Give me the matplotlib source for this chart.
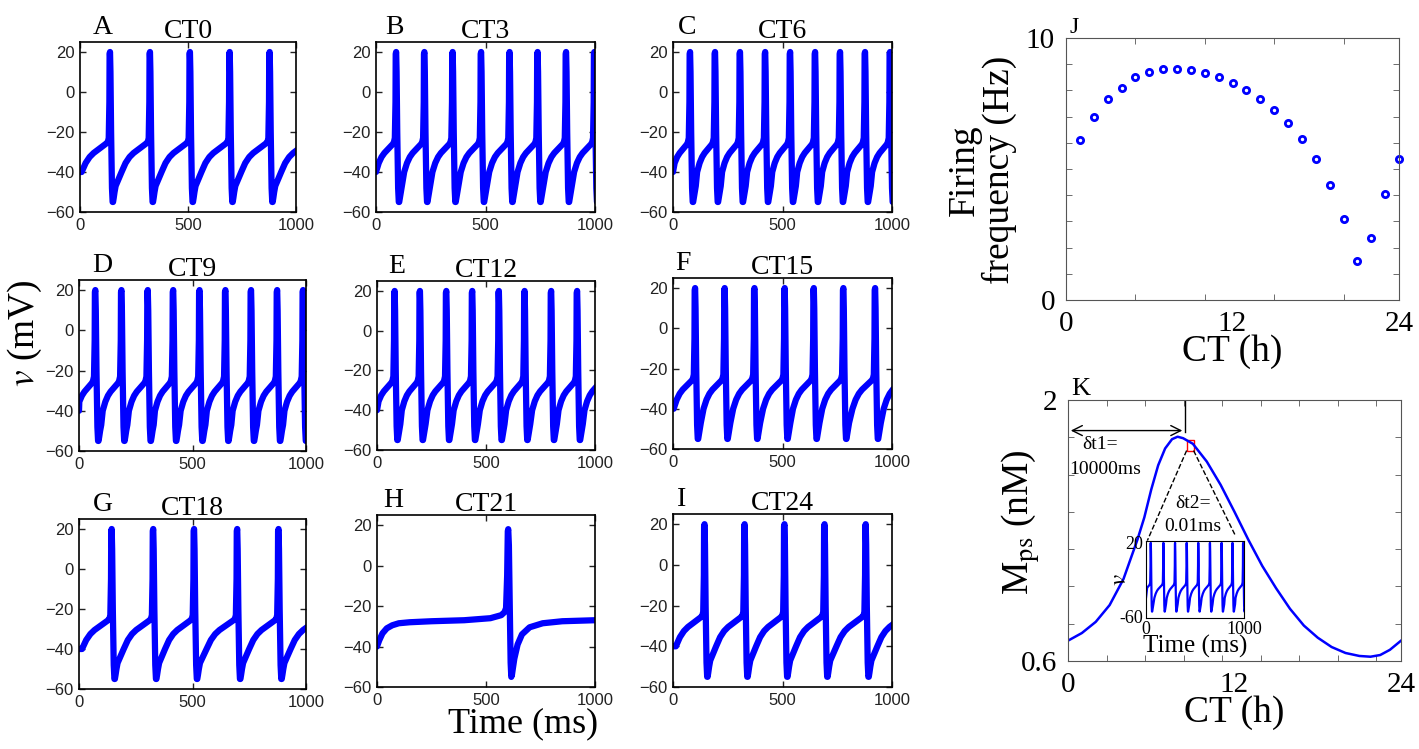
import numpy as np
import matplotlib
matplotlib.use("Agg")
import matplotlib.pyplot as plt
from matplotlib.patches import Rectangle

plt.rcParams["font.family"] = ["Liberation Serif", "DejaVu Serif"]
plt.rcParams["mathtext.fontset"] = "stix"

W, H = 1419, 749
BLUE = "#0000ff"

# panels A-I: label, title, spike peak times (ms)
panel_letters = ["A", "B", "C", "D", "E", "F", "G", "I"]
panel_titles = ["CT0", "CT3", "CT6", "CT9", "CT12", "CT15", "CT18", "CT24"]
spike_times = [
    [137, 322, 507, 691, 876],
    [90, 219, 348, 478, 608, 736, 866, 995],
    [76, 190, 304, 419, 533, 647, 761, 875, 989],
    [70, 185, 301, 413, 529, 643, 756, 871, 985],
    [79, 195, 316, 435, 557, 675, 797, 916],
    [99, 234, 370, 508, 641, 776, 921],
    [142, 325, 505, 695, 877],
    [142, 325, 507, 690, 878],
]

# shape of one action potential (ms from peak, mV)
spike_t = [-8, -4, -1, 0, 2, 4, 7, 11, 14, 16, 19, 23, 28]
spike_v = [-25, -23, -5, 19, 20, 10, -20, -48, -55, -55, -53, -50, -47]
# slow recovery between spikes (fraction of interval, mV)
recov_phase = [0.3, 0.4, 0.5, 0.6, 0.7, 0.8, 0.9]
recov_v = [-40, -35.5, -32.5, -30.5, -29, -27.5, -26]

# CT21 panel: a single spike
h_time = [0, 10, 25, 45, 70, 100, 150, 250, 400, 520, 570, 585, 592, 597, 600, 602, 605, 609,
          613, 616, 619, 623, 630, 645, 665, 700, 760, 850, 1000]
h_volt = [-40, -37, -33.5, -31, -29.5, -28.5, -28, -27.5, -27, -26, -24.5, -23, -21, -5, 17, 18,
          10, -20, -48, -55, -54, -51, -46, -39, -34, -30.5, -28.5, -27.5, -27]

# J: firing frequency
ct_hours = list(range(1, 25))
freq_hz = [6.09, 6.99, 7.69, 8.10, 8.50, 8.70, 8.80, 8.82, 8.78, 8.66, 8.50, 8.29,
           8.01, 7.68, 7.26, 6.76, 6.14, 5.39, 4.39, 3.11, 1.50, 2.37, 4.06, 5.39]

# K: Mps over the day
mps_ct = [0, 1, 2, 3, 4, 5, 5.5, 6, 6.5, 7, 7.5, 7.9, 8.3, 9, 10, 11, 12, 13, 14, 15,
          16, 17, 18, 19, 20, 21, 21.8, 22.5, 23.2, 24]
mps_nm = [0.709, 0.75, 0.81, 0.90, 1.04, 1.25, 1.37, 1.52, 1.65, 1.74, 1.79, 1.803,
          1.795, 1.765, 1.67, 1.545, 1.40, 1.25, 1.11, 0.99, 0.88, 0.79, 0.725, 0.675,
          0.643, 0.627, 0.623, 0.632, 0.66, 0.709]
inset_spikes = [47, 176, 295, 414, 532, 651, 770, 881, 990]


def build_trace(spikes):
    isi = np.mean(np.diff(spikes))
    t, v = [0.0], [-40.0]
    for f, val in zip(recov_phase, recov_v):
        tt = spikes[0] - isi * (1 - f)
        if tt > 0:
            t.append(tt)
            v.append(val)
    for k, s in enumerate(spikes):
        t += [s + d for d in spike_t]
        v += spike_v
        nxt = spikes[k + 1] if k + 1 < len(spikes) else s + isi
        gap = nxt - s
        t += [s + f * gap for f in recov_phase]
        v += recov_v
    return np.array(t), np.array(v)


def px_axes(l, t, r, b):
    return fig.add_axes([l / W, 1 - b / H, (r - l) / W, (b - t) / H])


def style_voltage(ax, letter, title, dx):
    ax.set_xlim(0, 1000)
    ax.set_ylim(-60, 25)
    ax.set_xticks([0, 500, 1000])
    ax.set_yticks([-60, -40, -20, 0, 20])
    ax.set_yticklabels(["\u221260", "\u221240", "\u221220", "0", "20"])
    ax.tick_params(direction="in", length=4, width=1, top=True, right=True,
                   labelsize=12, pad=4, colors="#222222")
    for lab in ax.get_xticklabels() + ax.get_yticklabels():
        lab.set_fontfamily("Liberation Sans")
    for sp in ax.spines.values():
        sp.set_linewidth(1.2)
    ax.set_title(title, fontsize=20, pad=3)
    ax.text(dx, 1.01, letter, transform=ax.transAxes, fontsize=20, va="bottom", ha="left")


fig = plt.figure(figsize=(W / 100, H / 100), dpi=100)

boxes = [
    (80, 42, 296, 212), (376, 42, 595, 212), (673, 42, 892, 212),
    (79, 280, 306, 451), (377, 281, 595, 450), (673, 278, 892, 449),
    (79, 519, 306, 689), (673, 514, 892, 687),
]
letter_dx = [0.06, 0.04, 0.02, 0.06, 0.05, 0.01, 0.06, 0.02]
for box, letter, title, spikes, dx in zip(boxes, panel_letters, panel_titles, spike_times, letter_dx):
    ax = px_axes(*box)
    t, v = build_trace(spikes)
    ax.plot(t, v, color=BLUE, lw=4.5, solid_joinstyle="round", solid_capstyle="round")
    style_voltage(ax, letter, title, dx)

ax_h = px_axes(377, 515, 595, 687)
ax_h.plot(h_time, h_volt, color=BLUE, lw=4.5, solid_joinstyle="round", solid_capstyle="round")
style_voltage(ax_h, "H", "CT21", 0.03)

fig.text(25 / W, 1 - 333 / H, r"$v$ (mV)", rotation=90, fontsize=27, ha="center", va="center")
fig.text(523 / W, 1 - 724 / H, "Time (ms)", fontsize=26, ha="center", va="center")

# J
ax_j = px_axes(1066, 38, 1399, 300)
ax_j.plot(ct_hours, freq_hz, "o", color=BLUE, mfc="white", ms=4.5, mew=2, clip_on=False)
ax_j.set_xlim(0, 24)
ax_j.set_ylim(0, 10)
ax_j.set_xticks([0, 12, 24])
ax_j.set_yticks([0, 10])
ax_j.set_xticks([5, 10, 15, 20], minor=True)
ax_j.set_yticks(range(1, 10), minor=True)
ax_j.tick_params(which="major", length=0, labelsize=21, pad=8)
ax_j.tick_params(which="minor", direction="in", length=4, top=True, right=True, color="#555555")
for sp in ax_j.spines.values():
    sp.set_color("#555555")
ax_j.set_xlabel("CT (h)", fontsize=27, labelpad=-2)
ax_j.text(0.01, 1.0, "J", transform=ax_j.transAxes, fontsize=17, va="bottom")
fig.text(982 / W, 1 - 170 / H, "Firing\nfrequency (Hz)", rotation=90, fontsize=27,
         ha="center", va="center", linespacing=1.0)

# K
ax_k = px_axes(1068, 400, 1401, 661)
ax_k.plot(mps_ct, mps_nm, color=BLUE, lw=1.8)
ax_k.set_xlim(0, 24)
ax_k.set_ylim(0.6, 2)
ax_k.set_xticks([0, 12, 24])
ax_k.set_xticklabels(["0", "12", "24"])
ax_k.set_yticks([0.6, 2])
ax_k.set_yticklabels(["0.6", "2"])
ax_k.set_xticks(np.arange(1, 9) * 10000 / 3600, minor=True)
ax_k.set_yticks(np.arange(0.8, 1.9, 0.2), minor=True)
ax_k.tick_params(which="major", length=0, labelsize=21, pad=8)
ax_k.tick_params(which="minor", direction="in", length=4, top=True, right=True, color="#555555")
for sp in ax_k.spines.values():
    sp.set_color("#555555")
ax_k.set_xlabel("CT (h)", fontsize=27, labelpad=-2)
fig.text(1021 / W, 1 - 522 / H, r"M$_{\rm ps}$ (nM)", rotation=90, fontsize=27,
         ha="center", va="center")
ax_k.text(0.01, 1.0, "K", transform=ax_k.transAxes, fontsize=19, va="bottom")

ax_k.plot([8.44, 8.44], [2.0, 1.83], color="black", lw=1)
ax_k.annotate("", xy=(0, 1.836), xytext=(8.44, 1.836),
              arrowprops=dict(arrowstyle="<->", color="black", lw=1, mutation_scale=18))
ax_k.add_patch(Rectangle((8.55, 1.729), 0.5, 0.055, fill=False, ec="red", lw=1))
ax_k.plot([8.55, 5.72], [1.729, 1.246], "k--", lw=1)
ax_k.plot([9.05, 12.04], [1.729, 1.276], "k--", lw=1)
ax_k.text(2.3, 1.76, "\u03b4t1=", fontsize=14, ha="center", va="center")
ax_k.text(2.7, 1.625, "10000ms", fontsize=14, ha="center", va="center")
ax_k.text(9.0, 1.447, "\u03b4t2=", fontsize=14, ha="center", va="center")
ax_k.text(9.0, 1.32, "0.01ms", fontsize=14, ha="center", va="center")

ax_in = px_axes(1146, 541, 1244, 618)
ti, vi = build_trace(inset_spikes)
ax_in.plot(ti, vi, color=BLUE, lw=1.6)
ax_in.set_xlim(0, 1000)
ax_in.set_ylim(-62, 22)
ax_in.set_xticks([0, 1000])
ax_in.set_yticks([-60, 20])
ax_in.set_yticklabels(["-60", "20"])
ax_in.tick_params(length=0, labelsize=13, pad=2)
ax_in.set_xlabel("Time (ms)", fontsize=18, labelpad=-2)
ax_in.set_ylabel(r"$v$", fontsize=18, labelpad=-8)

fig.savefig("out.png", dpi=100)
